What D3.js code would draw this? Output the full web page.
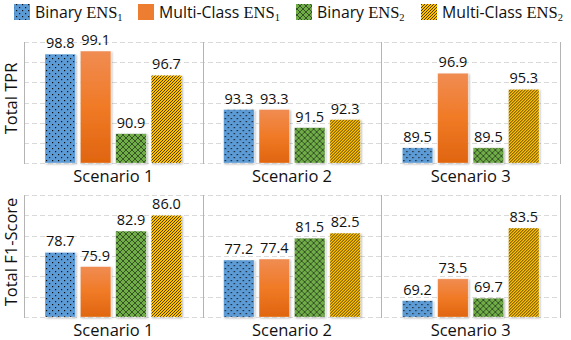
<!DOCTYPE html>
<html>
<head>
<meta charset="utf-8">
<script src="https://cdn.jsdelivr.net/npm/d3@7"></script>
<style>
  body { margin: 0; background: #fff; }
  svg { display: block; font-family: "Open Sans", sans-serif; }
</style>
</head>
<body>
<div id="chart"></div>
<script>
const scenarios = ['Scenario 1', 'Scenario 2', 'Scenario 3'];
const seriesNames = ['bin1', 'multi1', 'bin2', 'multi2'];
const seriesLabels = [['Binary ', '1'], ['Multi-Class ', '1'], ['Binary ', '2'], ['Multi-Class ', '2']];

const tprValues = {
    bin1:   [98.8, 93.3, 89.5],
    multi1: [99.1, 93.3, 96.9],
    bin2:   [90.9, 91.5, 89.5],
    multi2: [96.7, 92.3, 95.3]
};
const f1Values = {
    bin1:   [78.7, 77.2, 69.2],
    multi1: [75.9, 77.4, 73.5],
    bin2:   [82.9, 81.5, 69.7],
    multi2: [86.0, 82.5, 83.5]
};
const tprTicks = [88, 90, 92, 94, 96, 98, 100];
const f1Ticks = [66, 70, 74, 78, 82, 86, 90];

const W = 571, H = 340;
const svg = d3.select('#chart').append('svg')
    .attr('width', W).attr('height', H);

// patterns
const defs = svg.append('defs');

const pDots = defs.append('pattern').attr('id', 'pDots')
    .attr('patternUnits', 'userSpaceOnUse').attr('width', 6).attr('height', 6);
pDots.append('rect').attr('width', 6).attr('height', 6).attr('fill', '#5b9bd5');
pDots.append('rect').attr('x', 1).attr('y', 1).attr('width', 1.2).attr('height', 1.2).attr('fill', '#111');
pDots.append('rect').attr('x', 4).attr('y', 4).attr('width', 1.2).attr('height', 1.2).attr('fill', '#111');

const gOrange = defs.append('linearGradient').attr('id', 'gOrange')
    .attr('x1', 0).attr('y1', 0).attr('x2', 0).attr('y2', 1);
gOrange.append('stop').attr('offset', '0%').attr('stop-color', '#f08c52');
gOrange.append('stop').attr('offset', '50%').attr('stop-color', '#f07a26');
gOrange.append('stop').attr('offset', '100%').attr('stop-color', '#e0650f');

const pHatch = defs.append('pattern').attr('id', 'pHatch')
    .attr('patternUnits', 'userSpaceOnUse').attr('width', 6).attr('height', 6);
pHatch.append('rect').attr('width', 6).attr('height', 6).attr('fill', '#70ad47');
pHatch.append('path').attr('d', 'M0,0 L6,6 M6,0 L0,6')
    .attr('stroke', '#2f4a22').attr('stroke-width', 0.9);

const pStripe = defs.append('pattern').attr('id', 'pStripe')
    .attr('patternUnits', 'userSpaceOnUse').attr('width', 3).attr('height', 3);
pStripe.append('rect').attr('width', 3).attr('height', 3).attr('fill', '#ffc000');
pStripe.append('path').attr('d', 'M-1,1 L1,-1 M0,3 L3,0 M2,4 L4,2')
    .attr('stroke', '#3a2c00').attr('stroke-width', 0.9);

const fills = { bin1: 'url(#pDots)', multi1: 'url(#gOrange)', bin2: 'url(#pHatch)', multi2: 'url(#pStripe)' };
const legendSwatch = ['url(#pDots)', '#ed7d31', 'url(#pHatch)', 'url(#pStripe)'];

const filter = defs.append('filter').attr('id', 'shadow')
    .attr('x', '-20%').attr('y', '-20%').attr('width', '140%').attr('height', '140%');
filter.append('feDropShadow').attr('dx', 1).attr('dy', 1).attr('stdDeviation', 0.8)
    .attr('flood-color', '#000').attr('flood-opacity', 0.3);

// layout
const left = 24, right = 560;
const x0 = d3.scaleBand().domain(scenarios).range([left, right]);
const x1 = d3.scaleBand().domain(seriesNames).range([21, x0.bandwidth() - 21]).paddingInner(0.14);

function drawPanel(values, ticks, top, bottom, title) {
    const y = d3.scaleLinear().domain([ticks[0], ticks[ticks.length - 1]]).range([bottom, top]);
    const g = svg.append('g');

    g.selectAll('line.grid').data(ticks).join('line')
        .attr('class', 'grid')
        .attr('x1', left).attr('x2', right)
        .attr('y1', d => Math.round(y(d)) + 0.5).attr('y2', d => Math.round(y(d)) + 0.5)
        .attr('stroke', '#d9d9d9').attr('stroke-dasharray', '5,3');

    const seps = [left].concat(scenarios.map(s => x0(s) + x0.bandwidth()));
    g.selectAll('line.sep').data(seps).join('line')
        .attr('x1', d => Math.round(d) + 0.5).attr('x2', d => Math.round(d) + 0.5)
        .attr('y1', top).attr('y2', bottom + 1)
        .attr('stroke', '#b4b4b4');

    const groups = g.selectAll('g.grp').data(scenarios).join('g')
        .attr('transform', d => `translate(${x0(d)},0)`);

    groups.selectAll('rect').data((s, i) => seriesNames.map(k => ({ k, v: values[k][i] }))).join('rect')
        .attr('x', d => x1(d.k)).attr('width', x1.bandwidth())
        .attr('y', d => y(d.v)).attr('height', d => bottom - y(d.v))
        .attr('fill', d => fills[d.k])
        .attr('stroke', '#ffffff').attr('stroke-opacity', 0.5).attr('stroke-width', 0.6)
        .attr('filter', 'url(#shadow)');

    groups.selectAll('text.val').data((s, i) => seriesNames.map(k => ({ k, v: values[k][i] }))).join('text')
        .attr('class', 'val')
        .attr('x', d => x1(d.k) + x1.bandwidth() / 2)
        .attr('y', d => y(d.v) - 6)
        .attr('text-anchor', 'middle')
        .attr('font-size', 14.5).attr('fill', '#111')
        .text(d => d.v.toFixed(1));

    g.selectAll('text.cat').data(scenarios).join('text')
        .attr('class', 'cat')
        .attr('x', d => x0(d) + x0.bandwidth() / 2)
        .attr('y', bottom + 19)
        .attr('text-anchor', 'middle')
        .attr('font-size', 16.5).attr('fill', '#111')
        .text(d => d);

    g.append('text')
        .attr('transform', `translate(17,${(top + bottom) / 2 - 4}) rotate(-90)`)
        .attr('text-anchor', 'middle')
        .attr('font-size', 16.5).attr('fill', '#111')
        .text(title);
}

drawPanel(tprValues, tprTicks, 42, 163, 'Total TPR');
drawPanel(f1Values, f1Ticks, 195, 317, 'Total F1-Score');

// legend
const legendX = [14, 138, 296, 421];
const leg = svg.append('g');
seriesLabels.forEach((lab, i) => {
    leg.append('rect')
        .attr('x', legendX[i]).attr('y', 4).attr('width', 16).attr('height', 16)
        .attr('fill', legendSwatch[i]);
    const t = leg.append('text')
        .attr('x', legendX[i] + 21).attr('y', 18)
        .attr('font-size', 15.8).attr('fill', '#111');
    t.append('tspan').text(lab[0]);
    t.append('tspan').attr('font-family', '"Liberation Serif", serif').attr('font-size', 16.5).text('ENS');
    t.append('tspan').attr('font-family', '"Liberation Serif", serif').attr('font-size', 10.5)
        .attr('dy', 3).text(lab[1]);
});
</script>
</body>
</html>
